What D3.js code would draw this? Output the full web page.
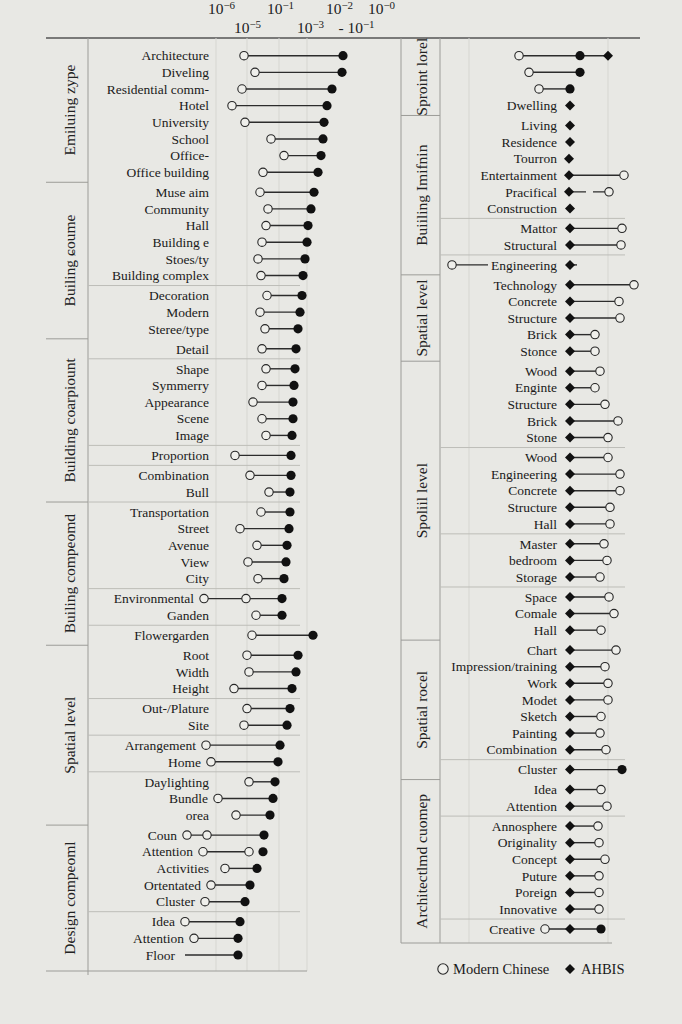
<!DOCTYPE html>
<html>
<head>
<meta charset="utf-8">
<script src="https://cdn.jsdelivr.net/npm/d3@7"></script>
<style>
html, body { margin: 0; background: #e8e8e4; }
svg { display: block; font-family: "Liberation Serif", "DejaVu Serif", serif; }
.lbl { font-size: 13.5px; fill: #1a1a1a; }
.grp { font-size: 15.5px; fill: #222; }
.cadre { stroke: #9c9c98; stroke-width: 1; }
.filet { stroke: #bdbdb8; stroke-width: 1; }
.grille { stroke: #d6d6d1; stroke-width: 1; }
.tige { stroke: #2c2c2c; stroke-width: 1.4; fill: none; }
.ouvert { fill: #efefeb; stroke: #262626; stroke-width: 1.1; }
.plein { fill: #111; }
</style>
</head>
<body>
<svg id="fig" width="682" height="1024"></svg>
<script>
"use strict";

/*
	DONNÉES	****	****	****	****	****	*/

// axe du haut (valeurs dans l'échelle de gauche)
var tickValues = [20.5, 33.5, 50, 65, 79.5, 88, 100.5];
var tickLabels = ["10|−6", "10|−5", "10|−1", "10|−3", "10|−2", "- 10|−1", "10|−0"];

// panneau gauche
var leftLabels = ["Architecture", "Diveling", "Residential comm-", "Hotel", "University", "School", "Office-",
	"Office building", "Muse aim", "Community", "Hall", "Building e", "Stoes/ty", "Building complex",
	"Decoration", "Modern", "Steree/type", "Detail", "Shape", "Symmerry", "Appearance", "Scene", "Image",
	"Proportion", "Combination", "Bull", "Transportation", "Street", "Avenue", "View", "City",
	"Environmental", "Ganden", "Flowergarden", "Root", "Width", "Height", "Out-/Plature", "Site",
	"Arrangement", "Home", "Daylighting", "Bundle", "orea", "Coun", "Attention", "Activities",
	"Ortentated", "Cluster", "Idea", "Attention", "Floor"];
var leftModern = [[32], [37.5], [31], [26], [32.5], [45.5], [52], [41.5], [40], [44], [43], [41], [39],
	[40.5], [43.5], [40], [42.5], [41], [43], [41], [36.5], [41], [43], [27.5], [35], [44.5], [40.5], [30],
	[38.5], [34], [39], [12, 33], [38], [36], [33.5], [34.5], [27], [33.5], [32], [13], [15.5], [34.5],
	[19], [28], [3.5, 13.5], [11.5, 34.5], [22.5], [15.5], [12.5], [2.5], [7], []];
var leftClosed = [81.5, 81, 76, 73.5, 72, 71.5, 70.5, 69, 67, 65.5, 64, 63.5, 62.5, 61.5, 61, 60, 59, 58,
	57.5, 57, 56.5, 56.5, 56, 55.5, 55.5, 55, 55, 54.5, 53.5, 53, 52, 51, 51, 66.5, 59, 58, 56, 55, 53.5,
	50, 49, 47.5, 46.5, 45, 42, 41.5, 38.5, 35, 32.5, 30, 29, 29];
var leftGroups = ["Emiluing zype", "Builing ɕoume", "Building coarpiount", "Builing compeomd",
	"Spatial level", "Design compeoml"];
var leftGroupEnds = [8, 17, 26, 34, 44, 52];
var leftRules = [14, 18, 23, 24, 26, 31, 33, 37, 39, 41, 49];
var leftGrid = [18, 33.5, 49.5, 63.5];
var leftStemStopsAtOpen = [45]; // "Attention" : la tige s'arrête au second cercle
var leftStemStart = { 51: 2.5 }; // "Floor" : tige sans cercle

// panneau droit
var rightLabels = ["", "", "", "Dwelling", "Living", "Residence", "Tourron", "Entertainment", "Pracifical",
	"Construction", "Mattor", "Structural", "Engineering", "Technology", "Concrete", "Structure", "Brick",
	"Stonce", "Wood", "Enginte", "Structure", "Brick", "Stone", "Wood", "Engineering", "Concrete",
	"Structure", "Hall", "Master", "bedroom", "Storage", "Space", "Comale", "Hall", "Chart",
	"Impression/training", "Work", "Modet", "Sketch", "Painting", "Combination", "Cluster", "Idea",
	"Attention", "Annosphere", "Originality", "Concept", "Puture", "Poreign", "Innovative", "Creative"];
var rightAhbis = [84, null, null, 65, 65, 65, 64.5, 64.5, 64.5, 65, 65, 65, 65, 65, 65, 65, 65, 65, 65,
	65, 65, 65, 65, 65, 65, 65, 65, 65, 65, 65, 65, 65, 65, 65, 65, 65, 65, 65, 65, 65, 65, 65, 65, 65,
	65, 65, 65, 65, 65, 65, 65];
var rightModern = [39.5, 44.5, 49.5, null, null, null, null, 92, 84.5, null, 91, 90.5, 6, 97, 89.5, 90,
	77.5, 77.5, 80, 77.5, 82.5, 89, 84, 84, 90, 90, 85, 85, 82, 83.5, 80, 84.5, 87, 80.5, 88, 82.5, 84,
	84, 80.5, 80, 83, null, 80.5, 83.5, 79, 79.5, 82.5, 79.5, 79.5, 79.5, 52.5];
var rightClosed = [70, 70, 65, null, null, null, null, null, null, null, null, null, null, null, null,
	null, null, null, null, null, null, null, null, null, null, null, null, null, null, null, null, null,
	null, null, null, null, null, null, null, null, null, 91, null, null, null, null, null, null, null,
	null, 80.5];
var rightGroups = ["Sproint lorel", "Buiiling Imifnin", "Spatial level", "Spoliil level",
	"Spatial rocel", "Architectlmd cuomep"];
var rightGroupEnds = [4, 13, 18, 34, 42, 51];
var rightRules = [10, 12, 23, 28, 31, 41, 44, 50];
var rightGrid = [14.5, 84];
var rightStemToLabel = [12]; // "Engineering" : cercle à gauche du libellé
var rightStemGap = [8]; // "Pracifical" : tige interrompue

var legendItems = ["Modern Chinese", "AHBIS"];


/*
	ÉCHELLES	****	****	****	****	****	*/

var svg = d3.select("#fig");
var top0 = 38;

var xL = d3.scaleLinear().domain([0, 100]).range([180, 380]);
var xR = d3.scaleLinear().domain([0, 100]).range([440, 640]);

// une case par ligne, un léger supplément après chaque filet
function cases(n, ruptures) {
	var pos = [], s = 0;
	for (var i = 0; i < n; i++) {
		pos.push(s);
		s += 1 + (ruptures.indexOf(i + 1) >= 0 ? 0.2 : 0);
	}
	return pos;
}

var casesL = cases(leftLabels.length, leftRules.concat(leftGroupEnds));
var casesR = cases(rightLabels.length, rightRules.concat(rightGroupEnds));
var yL = d3.scaleLinear().domain([0, casesL[casesL.length - 1]]).range([55.7, 955]);
var yR = d3.scaleLinear().domain([0, casesR[casesR.length - 1]]).range([55.7, 929]);
var rowL = i => yL(casesL[i]);
var rowR = i => yR(casesR[i]);
var entre = (row, n) => (row(n - 1) + row(n)) / 2;

var diamant = d3.symbol().type(d3.symbolSquare).size(50);


/*
	AXE DU HAUT	****	****	****	****	****	*/

var gAxe = svg.append("g")
.attr("transform", "translate(0,14)")
.call(d3.axisTop(xL)
	.tickValues(tickValues)
	.tickSize(0)
	.tickPadding(0)
	.tickFormat(""));
gAxe.select(".domain").remove();
gAxe.selectAll(".tick").each(function (d, i) {
	var parts = tickLabels[i].split("|");
	var t = d3.select(this).append("text")
	.attr("y", i % 2 ? 19 : 0)
	.attr("fill", "#1c1c1c")
	.attr("text-anchor", "middle")
	.style("font-family", "'Liberation Serif', serif")
	.style("font-size", "15.5px");
	t.append("tspan").text(parts[0]);
	t.append("tspan").attr("dy", -5).style("font-size", "11px").text(parts[1]);
});

svg.append("line")
.attr("x1", 46).attr("x2", 640)
.attr("y1", top0).attr("y2", top0)
.attr("stroke", "#555").attr("stroke-width", 1.4);


/*
	PANNEAU GAUCHE	****	****	****	****	****	*/

var basL = 971;
var gL = svg.append("g");

gL.selectAll(".grille")
.data(leftGrid)
.enter()
	.append("line")
	.attr("class", "grille")
	.attr("x1", d => xL(d)).attr("x2", d => xL(d))
	.attr("y1", top0).attr("y2", basL);

gL.append("line").attr("class", "cadre")
.attr("x1", 88).attr("x2", 88).attr("y1", top0).attr("y2", basL + 4);

gL.selectAll(".filet")
.data(leftRules)
.enter()
	.append("line")
	.attr("class", "filet")
	.attr("x1", 88).attr("x2", 300)
	.attr("y1", d => entre(rowL, d)).attr("y2", d => entre(rowL, d));

// groupes
var bornesL = [top0].concat(leftGroupEnds.slice(0, -1).map(n => entre(rowL, n)), [basL]);
gL.selectAll(".borne")
.data(bornesL.slice(1, -1))
.enter()
	.append("line")
	.attr("class", "cadre")
	.attr("x1", 46).attr("x2", 88)
	.attr("y1", d => d).attr("y2", d => d);
gL.selectAll(".grp")
.data(leftGroups)
.enter()
	.append("text")
	.attr("class", "grp")
	.attr("text-anchor", "middle")
	.attr("transform", (d, i) => "translate(75," + (bornesL[i] + bornesL[i + 1]) / 2 + ") rotate(-90)")
	.text(d => d);

gL.append("line").attr("class", "cadre")
.attr("x1", 46).attr("x2", 307).attr("y1", basL).attr("y2", basL)
.attr("stroke", "#666");

// lignes de données
leftLabels.forEach(function (lab, i) {
	var y = rowL(i);
	var ouverts = leftModern[i];
	var debut = leftStemStart[i] !== undefined ? leftStemStart[i] : d3.min(ouverts);
	var fin = leftStemStopsAtOpen.indexOf(i) >= 0 ? d3.max(ouverts) : leftClosed[i];
	var g = gL.append("g");

	g.append("line").attr("class", "tige")
	.attr("x1", xL(debut)).attr("x2", xL(fin))
	.attr("y1", y).attr("y2", y);

	g.selectAll("circle.ouvert")
	.data(ouverts)
	.enter()
		.append("circle")
		.attr("class", "ouvert")
		.attr("cx", d => xL(d)).attr("cy", y).attr("r", 4.2);

	g.append("circle").attr("class", "plein")
	.attr("cx", xL(leftClosed[i])).attr("cy", y).attr("r", 4.6);

	g.append("text").attr("class", "lbl")
	.attr("x", Math.min(209, xL(debut) - 10))
	.attr("y", y).attr("dy", "0.35em")
	.attr("text-anchor", "end")
	.text(lab);
});


/*
	PANNEAU DROIT	****	****	****	****	****	*/

var basR = 943;
var gR = svg.append("g");

gR.selectAll(".grille")
.data(rightGrid)
.enter()
	.append("line")
	.attr("class", "grille")
	.attr("x1", d => xR(d)).attr("x2", d => xR(d))
	.attr("y1", top0).attr("y2", basR);

gR.selectAll(".montant")
.data([401, 440])
.enter()
	.append("line")
	.attr("class", "cadre")
	.attr("x1", d => d).attr("x2", d => d)
	.attr("y1", top0).attr("y2", basR);

gR.selectAll(".filet")
.data(rightRules)
.enter()
	.append("line")
	.attr("class", "filet")
	.attr("x1", 440).attr("x2", 625)
	.attr("y1", d => entre(rowR, d)).attr("y2", d => entre(rowR, d));

var bornesR = [top0].concat(rightGroupEnds.slice(0, -1).map(n => entre(rowR, n)), [basR]);
gR.selectAll(".borne")
.data(bornesR.slice(1, -1))
.enter()
	.append("line")
	.attr("class", "cadre")
	.attr("x1", 401).attr("x2", 440)
	.attr("y1", d => d).attr("y2", d => d);
gR.selectAll(".grp")
.data(rightGroups)
.enter()
	.append("text")
	.attr("class", "grp")
	.attr("text-anchor", "middle")
	.attr("transform", (d, i) => "translate(427," + (bornesR[i] + bornesR[i + 1]) / 2 + ") rotate(-90)")
	.text(d => d);

gR.append("line").attr("class", "cadre")
.attr("x1", 401).attr("x2", 612).attr("y1", basR).attr("y2", basR);

rightLabels.forEach(function (lab, i) {
	var y = rowR(i);
	var marques = [rightAhbis[i], rightModern[i], rightClosed[i]].filter(v => v !== null);
	var g = gR.append("g");
	var versLibelle = rightStemToLabel.indexOf(i) >= 0;
	var ancre = versLibelle ? 557 : Math.min(557, xR(d3.min(marques)) - 10);

	var txt = g.append("text").attr("class", "lbl")
	.attr("x", ancre).attr("y", y).attr("dy", "0.35em")
	.attr("text-anchor", "end")
	.text(lab);

	if (versLibelle) {
		var gauche = ancre - txt.node().getComputedTextLength() - 3;
		g.append("line").attr("class", "tige")
		.attr("x1", xR(rightModern[i])).attr("x2", gauche)
		.attr("y1", y).attr("y2", y);
		g.append("line").attr("class", "tige")
		.attr("x1", xR(rightAhbis[i])).attr("x2", xR(rightAhbis[i]) + 7)
		.attr("y1", y).attr("y2", y);
	} else if (marques.length > 1) {
		g.append("line").attr("class", "tige")
		.attr("x1", xR(d3.min(marques))).attr("x2", xR(d3.max(marques)))
		.attr("y1", y).attr("y2", y)
		.attr("stroke-dasharray", rightStemGap.indexOf(i) >= 0 ? "17,7,60" : null);
	}

	if (rightModern[i] !== null)
		g.append("circle").attr("class", "ouvert")
		.attr("cx", xR(rightModern[i])).attr("cy", y).attr("r", 4.2);
	if (rightClosed[i] !== null)
		g.append("circle").attr("class", "plein")
		.attr("cx", xR(rightClosed[i])).attr("cy", y).attr("r", 4.6);
	if (rightAhbis[i] !== null)
		g.append("path").attr("class", "plein")
		.attr("d", diamant())
		.attr("transform", "translate(" + xR(rightAhbis[i]) + "," + y + ") rotate(45)");
});


/*
	LÉGENDE	****	****	****	****	****	*/

var gLeg = svg.append("g").attr("transform", "translate(0,969)");
gLeg.append("circle").attr("class", "ouvert").attr("cx", 443).attr("cy", 0).attr("r", 5.2);
gLeg.append("text").attr("class", "lbl").style("font-size", "14.5px")
.attr("x", 453).attr("dy", "0.35em").text(legendItems[0]);
gLeg.append("path").attr("class", "plein")
.attr("d", diamant())
.attr("transform", "translate(570,0) rotate(45)");
gLeg.append("text").attr("class", "lbl").style("font-size", "14.5px")
.attr("x", 581).attr("dy", "0.35em").text(legendItems[1]);
</script>
</body>
</html>
